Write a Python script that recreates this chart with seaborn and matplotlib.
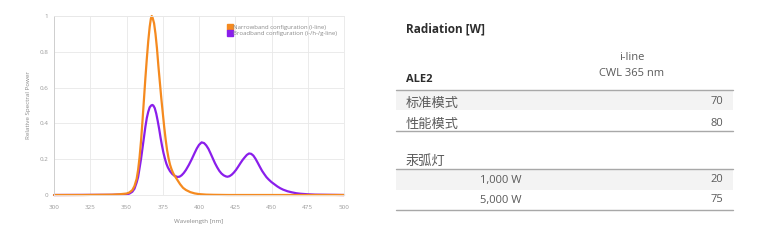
import matplotlib
matplotlib.use("Agg")
import matplotlib.pyplot as plt
import seaborn as sns
import pandas as pd
from matplotlib.lines import Line2D
from matplotlib.patches import Rectangle
from matplotlib.ticker import FuncFormatter

# ---------------- data ----------------
narrow_nm = [300, 320, 340, 345, 350, 352, 354, 355.5, 357, 358, 359, 360, 361, 362, 363, 364,
             365, 366, 366.8, 367.4, 368, 369, 370, 371, 372, 373, 374, 375, 376, 377, 378, 379,
             380, 381, 382, 383, 385, 387, 389, 391, 394, 397, 400, 405, 410, 420, 450, 500]
narrow_val = [0, 0, 0.002, 0.004, 0.008, 0.014, 0.027, 0.05, 0.09, 0.14, 0.21, 0.3, 0.41, 0.53,
              0.65, 0.76, 0.86, 0.94, 0.985, 1.0, 0.99, 0.96, 0.9, 0.82, 0.72, 0.63, 0.54, 0.46,
              0.38, 0.31, 0.25, 0.205, 0.17, 0.145, 0.125, 0.11, 0.085, 0.06, 0.04, 0.028, 0.016,
              0.009, 0.005, 0.002, 0.001, 0, 0, 0]

broad_nm = [300, 340, 350, 352, 354, 355.5, 357, 358, 359, 360, 361, 362, 363, 364, 365, 366,
            367, 367.8, 368.5, 369.5, 370.5, 371.5, 372.5, 373.5, 374.5, 375.5, 376.6, 377.5,
            378.5, 380, 381.5, 383, 385, 386.5, 388, 389.5, 391, 393, 395, 397, 398.5, 400,
            401.8, 403.5, 405, 406.5, 408, 409.5, 411, 412.5, 414, 415.5, 417, 418.5, 419.6,
            421, 422.5, 424, 425.5, 427, 428.5, 430, 431.5, 433, 434.5, 436, 437.5, 439, 440.5,
            442, 443.5, 445, 446.5, 448, 450, 452, 454, 456, 458, 461, 464, 467, 470, 475, 480,
            490, 500]
broad_val = [0, 0.001, 0.004, 0.008, 0.018, 0.035, 0.07, 0.1, 0.15, 0.2, 0.26, 0.32, 0.38,
             0.43, 0.465, 0.49, 0.5, 0.503, 0.5, 0.485, 0.455, 0.415, 0.37, 0.32, 0.275, 0.235,
             0.2, 0.175, 0.155, 0.133, 0.118, 0.108, 0.101, 0.102, 0.11, 0.123, 0.14, 0.168, 0.2,
             0.235, 0.26, 0.28, 0.294, 0.29, 0.277, 0.258, 0.232, 0.205, 0.178, 0.155, 0.135,
             0.12, 0.11, 0.104, 0.102, 0.105, 0.113, 0.125, 0.14, 0.158, 0.177, 0.195, 0.21,
             0.224, 0.232, 0.23, 0.22, 0.202, 0.18, 0.157, 0.135, 0.117, 0.1, 0.087, 0.072,
             0.06, 0.048, 0.038, 0.03, 0.021, 0.015, 0.01, 0.007, 0.004, 0.002, 0.001, 0]

series_names = ["Narrowband configuration (i-line)", "Broadband configuration (i-/h-/g-line)"]
series_colors = ["#F58A1F", "#8A1EEB"]

x_ticks = [300, 325, 350, 375, 400, 425, 450, 475, 500]
y_ticks = [0, 0.2, 0.4, 0.6, 0.8, 1.0]

table_title = "Radiation [W]"
col_header = ["i-line", "CWL 365 nm"]
group1_name = "ALE2"
group1_rows = ["标准模式", "性能模式"]
group1_vals = ["70", "80"]
group2_name = "汞弧灯"
group2_rows = ["1,000 W", "5,000 W"]
group2_vals = ["20", "75"]

# ---------------- style ----------------
sns.set_theme(style="white")
plt.rcParams["font.family"] = ["Open Sans", "Noto Sans CJK SC", "DejaVu Sans"]

df = pd.concat([
    pd.DataFrame({"nm": narrow_nm, "val": narrow_val, "series": series_names[0]}),
    pd.DataFrame({"nm": broad_nm, "val": broad_val, "series": series_names[1]}),
])

fig = plt.figure(figsize=(7.68, 2.4), dpi=100)
fig.patch.set_facecolor("white")

ax = fig.add_axes([54 / 768, 1 - 195 / 240, 290 / 768, 179 / 240])
sns.lineplot(data=df, x="nm", y="val", hue="series", hue_order=series_names[::-1],
             palette=dict(zip(series_names, series_colors)), linewidth=1.6,
             legend=False, ax=ax, sort=False)
for ln in ax.lines:
    ln.set_clip_on(False)
    ln.set_solid_joinstyle("round")
ax.set_xlim(300, 500)
ax.set_ylim(0, 1.0)
ax.set_xticks(x_ticks)
ax.set_yticks(y_ticks)
ax.yaxis.set_major_formatter(FuncFormatter(lambda v, p: f"{v:g}"))
ax.grid(True, color="#e8e8e8", linewidth=0.6)
for s in ["top", "right", "bottom"]:
    ax.spines[s].set_color("#e8e8e8")
    ax.spines[s].set_linewidth(0.6)
ax.spines["left"].set_color("#cfcfcf")
ax.spines["left"].set_linewidth(0.7)
ax.tick_params(axis="x", labelsize=4.5, colors="#9a9a9a", length=0, pad=7)
ax.tick_params(axis="y", labelsize=4.5, colors="#9a9a9a", length=0, pad=4)
ax.set_xlabel("Wavelength [nm]", fontsize=4.5, color="#8a8a8a", labelpad=7)
ax.set_ylabel("Relative Spectral Power", fontsize=4.5, color="#8a8a8a", labelpad=6)

handles = [Line2D([], [], marker="s", linestyle="none", markersize=4, color=c)
           for c in series_colors]
ax.legend(handles, series_names, loc="upper right", bbox_to_anchor=(0.99, 0.975),
          fontsize=4.3, frameon=False, handletextpad=0.15, labelspacing=0.2,
          handlelength=0.8, labelcolor="#8a8a8a", borderaxespad=0.3)

# ---------------- table ----------------
tax = fig.add_axes([380 / 768, 0, 388 / 768, 1])
tax.set_xlim(380, 768)
tax.set_ylim(240, 0)
tax.axis("off")

dark = "#2d2d2d"
body = "#5a5a5a"
x0, x1 = 396, 733
tax.add_patch(Rectangle((x0, 90), x1 - x0, 20, color="#f3f3f3", lw=0))
tax.add_patch(Rectangle((x0, 169), x1 - x0, 21, color="#f3f3f3", lw=0))
for yy in [90, 131, 169, 210]:
    tax.plot([x0, x1], [yy, yy], color="#a8a8a8", lw=1.0)

tax.text(406, 29, table_title, fontsize=8.5, fontweight="bold", color=dark, va="center")
tax.text(632, 58, col_header[0], fontsize=8, color=body, va="center", ha="center")
tax.text(632, 74, col_header[1], fontsize=8, color=body, va="center", ha="center")
tax.text(406, 80, group1_name, fontsize=8, fontweight="bold", color=dark, va="center")
for yy, lab, v in zip([103, 124], group1_rows, group1_vals):
    tax.text(406, yy, lab, fontsize=9.5, color=body, va="center")
    tax.text(723, yy - 1, v, fontsize=8, color=body, va="center", ha="right")
tax.text(406, 161, group2_name, fontsize=9.5, color=body, va="center")
for yy, lab, v in zip([180, 200], group2_rows, group2_vals):
    tax.text(522, yy, lab, fontsize=8, color=body, va="center", ha="right")
    tax.text(723, yy, v, fontsize=8, color=body, va="center", ha="right")

fig.savefig("out.png", dpi=100, facecolor="white")
